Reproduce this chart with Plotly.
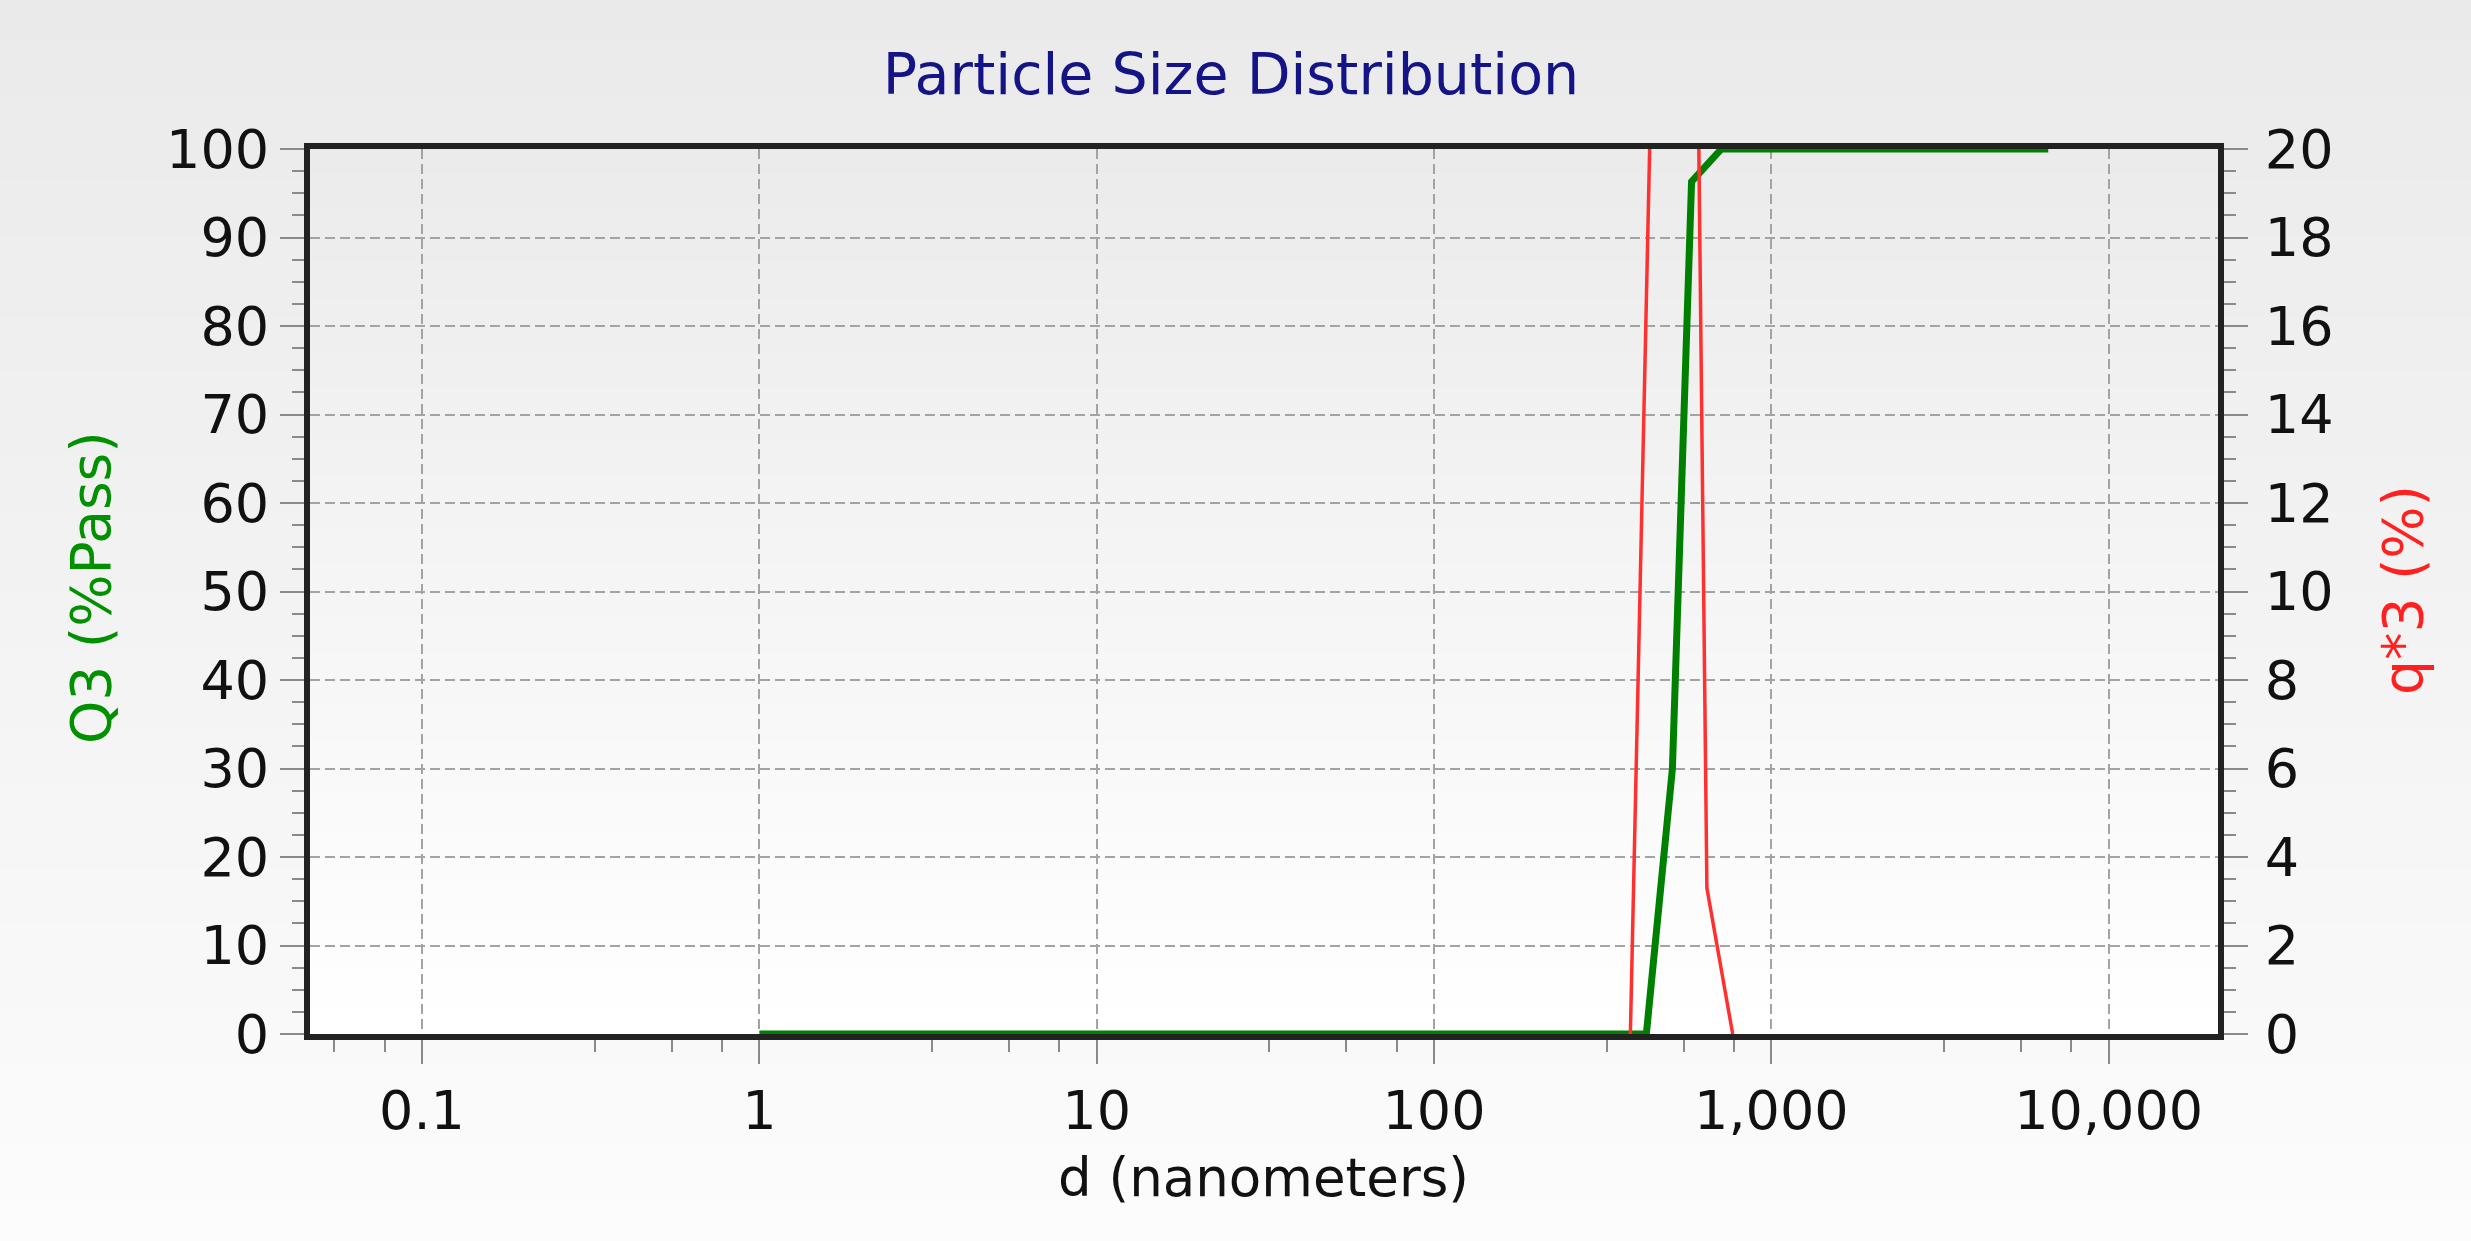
import plotly.graph_objects as go

# ---- data ----
q3_d = [1, 426, 509, 580, 711, 6620]          # nm
q3_pass = [0, 0, 30, 96.3, 100, 100]          # Q3 (%Pass)

q3d_d = [382, 545, 644, 768]                  # nm
q3d_val = [0, 54, 3.3, 0]                     # q*3 (%)

x_tickvals = [0.1, 1, 10, 100, 1000, 10000]
x_ticktext = ["0.1", "1", "10", "100", "1,000", "10,000"]

W, H = 2471, 1241
L, R, T, B = 310, 2218, 149, 1034   # plot area in pixels
FONT = "DejaVu Sans"

fig = go.Figure()
fig.add_trace(go.Scatter(x=q3d_d, y=q3d_val, mode="lines", yaxis="y2",
                         line=dict(color="#ff3030", width=3.5), showlegend=False))
fig.add_trace(go.Scatter(x=q3_d, y=q3_pass, mode="lines",
                         line=dict(color="#008000", width=7), showlegend=False))

# gradient backgrounds via stacked shapes
pw, ph = R - L, B - T
def px2paper_x(px): return (px - L) / pw
def px2paper_y(py): return (B - py) / ph

shapes = []
N = 90
for i in range(N):
    y0p, y1p = H * i / N, H * (i + 1) / N
    t = (i + 0.5) / N
    c = round(234 + (252 - 234) * t)
    shapes.append(dict(type="rect", xref="paper", yref="paper", layer="below",
                       x0=px2paper_x(-5), x1=px2paper_x(W + 5),
                       y0=px2paper_y(y1p + 1), y1=px2paper_y(y0p),
                       line=dict(width=0), fillcolor=f"rgb({c},{c},{c})"))
M = 70
for i in range(M):
    t = (i + 0.5) / M
    c = round(235 + (255 - 235) * t)
    shapes.append(dict(type="rect", xref="paper", yref="paper", layer="below",
                       x0=0, x1=1, y0=1 - (i + 1) / M, y1=1 - i / M + 0.002,
                       line=dict(width=0), fillcolor=f"rgb({c},{c},{c})"))

minor_x = [m * 10 ** n for n in range(-2, 5) for m in (3.25, 5.5, 7.75)]

tickstyle = dict(ticks="outside", ticklen=24, tickwidth=2, tickcolor="#8a8a8a",
                 showline=True, linewidth=6, linecolor="#222222",
                 zeroline=False, tickfont=dict(family=FONT, size=54, color="#111111"))
gridstyle = dict(showgrid=True, gridcolor="#a3a3a3", gridwidth=2, griddash="10px,5px")

fig.update_layout(
    width=W, height=H,
    margin=dict(l=L, r=W - R, t=T, b=H - B),
    paper_bgcolor="#f2f2f2", plot_bgcolor="rgba(0,0,0,0)",
    shapes=shapes,
    title=dict(text="Particle Size Distribution", x=1231 / W, y=1 - 74 / H,
               xanchor="center", yanchor="middle",
               font=dict(family=FONT, size=57, color="#141487")),
    xaxis=dict(type="log", range=[-1.332, 4.324], tickmode="array",
               tickvals=x_tickvals, ticktext=x_ticktext, mirror=True,
               minor=dict(tickmode="array", tickvals=minor_x, ticks="outside",
                          ticklen=12, tickwidth=2, tickcolor="#8a8a8a", showgrid=False),
               **tickstyle, **gridstyle),
    yaxis=dict(range=[0, 100], tick0=0, dtick=10, mirror=True,
               minor=dict(dtick=2.5, ticks="outside", ticklen=12, tickwidth=2,
                          tickcolor="#8a8a8a", showgrid=False),
               **tickstyle, **gridstyle),
    yaxis2=dict(range=[0, 20], tick0=0, dtick=2, overlaying="y", side="right",
                showgrid=False, ticklabelstandoff=6,
                minor=dict(dtick=0.5, ticks="outside", ticklen=12, tickwidth=2,
                           tickcolor="#8a8a8a", showgrid=False),
                **tickstyle),
    annotations=[
        dict(text="d (nanometers)", xref="paper", yref="paper",
             x=px2paper_x(1263), y=px2paper_y(1177), xanchor="center", yanchor="middle",
             showarrow=False, font=dict(family=FONT, size=53, color="#111111")),
        dict(text="Q3 (%Pass)", xref="paper", yref="paper", textangle=-90,
             x=px2paper_x(91), y=px2paper_y(588), xanchor="center", yanchor="middle",
             showarrow=False, font=dict(family=FONT, size=55, color="#009000")),
        dict(text="q*3 (%)", xref="paper", yref="paper", textangle=-90,
             x=px2paper_x(2403), y=px2paper_y(590), xanchor="center", yanchor="middle",
             showarrow=False, font=dict(family=FONT, size=55, color="#ff2020")),
    ],
)

fig.write_html("out.html", config={"displayModeBar": False},
               post_script="document.body.style.margin='0';"
                           "document.body.style.overflow='hidden';")
